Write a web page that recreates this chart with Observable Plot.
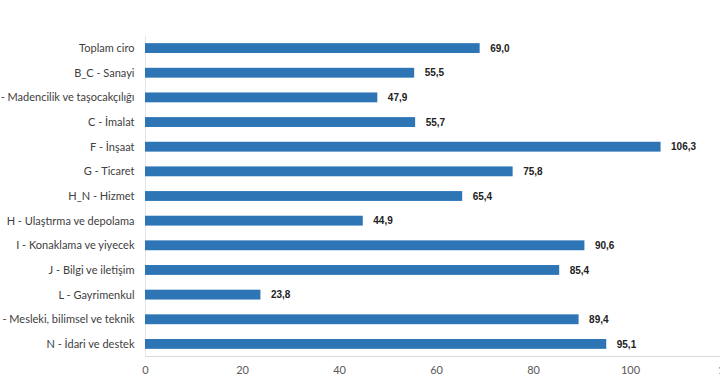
<!DOCTYPE html>
<html><head><meta charset="utf-8">
<script src="https://cdn.jsdelivr.net/npm/d3@7"></script>
<script src="https://cdn.jsdelivr.net/npm/@observablehq/plot@0.6"></script>
<style>body{margin:0;background:#fff;overflow:hidden}</style>
</head><body><div id="chart"></div>
<script>
const categories = [
  "Toplam ciro",
  "B_C - Sanayi",
  "A - Madencilik ve taşocakçılığı",
  "C - İmalat",
  "F - İnşaat",
  "G - Ticaret",
  "H_N - Hizmet",
  "H - Ulaştırma ve depolama",
  "I - Konaklama ve yiyecek",
  "J - Bilgi ve iletişim",
  "L - Gayrimenkul",
  "M - Mesleki, bilimsel ve teknik",
  "N - İdari ve destek"
];
const values = [69.0, 55.5, 47.9, 55.7, 106.3, 75.8, 65.4, 44.9, 90.6, 85.4, 23.8, 89.4, 95.1];
const xTicks = [0, 20, 40, 60, 80, 100, 120];

const data = categories.map((c, i) => ({category: c, value: values[i]}));
const fmt = v => d3.format(".1f")(v).replace(".", ",");

const chart = Plot.plot({
  width: 720,
  height: 381,
  marginLeft: 145,
  marginRight: -7,
  marginTop: 36,
  marginBottom: 25,
  style: {fontFamily: "Lato, 'Open Sans', sans-serif", fontSize: "11px", background: "#fff"},
  x: {domain: [0, 120], label: null},
  y: {domain: categories, paddingInner: 0.6, paddingOuter: 0.29, round: false, label: null},
  marks: [
    Plot.frame({anchor: "bottom", stroke: "#d9d9d9"}),
    Plot.ruleX([0], {stroke: "#e6e6e6"}),
    Plot.barX(data, {x: "value", y: "category", fill: "#2e75b6"}),
    Plot.text(data, {x: "value", y: "category", text: d => fmt(d.value), dx: 10, textAnchor: "start",
      fontWeight: "bold", fontSize: 10, fill: "#222", fontFamily: "'Liberation Sans', Arial, sans-serif"}),
    Plot.axisY({tickSize: 0, tickPadding: 11, fill: "#404040", fontSize: 11, label: null}),
    Plot.axisX({ticks: xTicks, tickSize: 0, tickPadding: 10, fill: "#595959", fontSize: 11, label: null})
  ]
});
document.getElementById("chart").appendChild(chart);
</script>
</body></html>
